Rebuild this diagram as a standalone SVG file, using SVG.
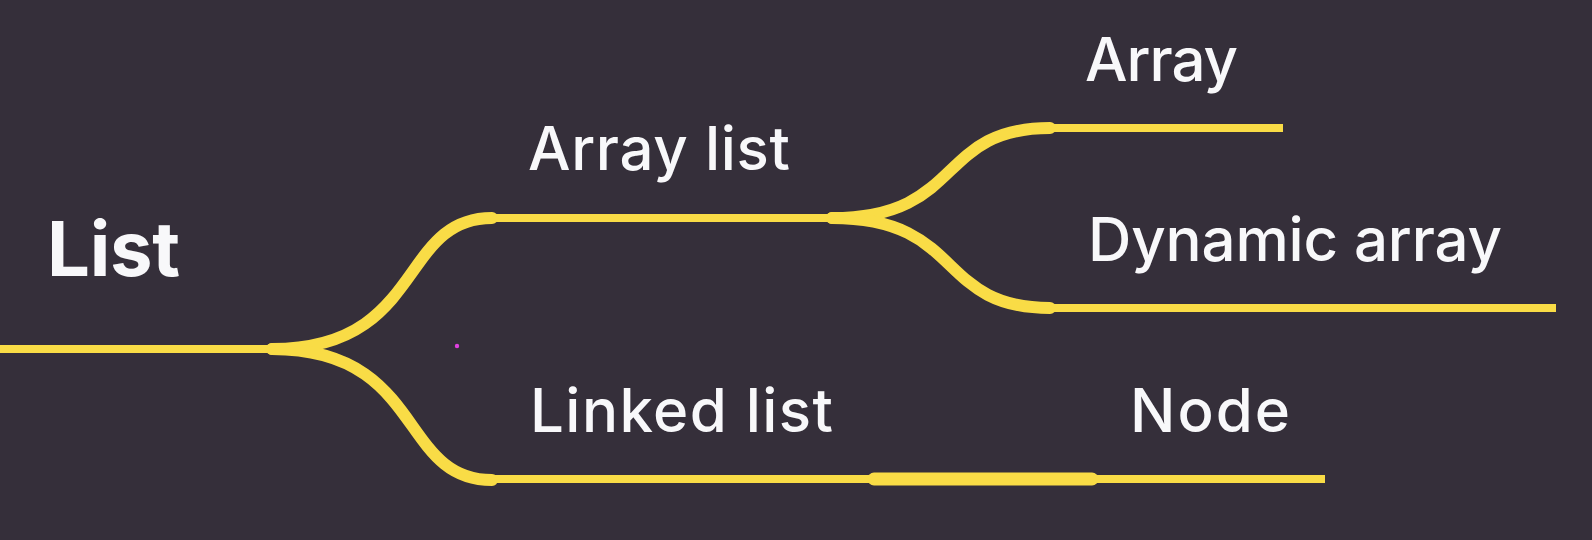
<svg xmlns="http://www.w3.org/2000/svg" width="1592" height="540" viewBox="0 0 1592 540">
  <style>
    .bg { fill: #352f3a; }
    .line { stroke: #f9dc46; stroke-width: 8; fill: none; stroke-linecap: butt; }
    .link { stroke: #f9dc46; stroke-width: 12; fill: none; stroke-linecap: round; }
    .label { font-family: "Inter", "Lato", "Liberation Sans", sans-serif; fill: #f8f8fa; font-weight: 500; font-size: 60px; }
    .root { font-weight: 700; font-size: 76px; }
  </style>
  <rect class="bg" x="0" y="0" width="1592" height="540"/>

  <!-- connectors between nodes -->
  <g id="connectors">
    <path class="link" d="M272,349 C425,349 398,218 492,218"/>
    <path class="link" d="M272,349 C425,349 398,480 492,480"/>
    <path class="link" d="M832,218 C965,218 935,128 1050,128"/>
    <path class="link" d="M832,218 C965,218 935,308 1050,308"/>
    <path class="link" style="stroke-width:13" d="M874,479 L1092,479"/>
  </g>

  <g id="node-list">
    <line class="line" x1="0" y1="349" x2="272" y2="349"/>
    <text class="label root" x="47" y="276" textLength="133" lengthAdjust="spacing">List</text>
  </g>
  <g id="node-array-list">
    <line class="line" x1="492" y1="218" x2="832" y2="218"/>
    <text class="label" x="528" y="170" textLength="262" lengthAdjust="spacing">Array list</text>
  </g>
  <g id="node-linked-list">
    <line class="line" x1="492" y1="479" x2="874" y2="479"/>
    <text class="label" x="530" y="432" textLength="303" lengthAdjust="spacing">Linked list</text>
  </g>
  <g id="node-array">
    <line class="line" x1="1050" y1="128" x2="1283" y2="128"/>
    <text class="label" x="1085" y="81" textLength="153" lengthAdjust="spacing">Array</text>
  </g>
  <g id="node-dynamic-array">
    <line class="line" x1="1050" y1="308" x2="1556" y2="308"/>
    <text class="label" x="1088" y="261" textLength="414" lengthAdjust="spacing">Dynamic array</text>
  </g>
  <g id="node-node">
    <line class="line" x1="1092" y1="479" x2="1325" y2="479"/>
    <text class="label" x="1130" y="432" textLength="160" lengthAdjust="spacing">Node</text>
  </g>

  <circle cx="457" cy="346" r="2.2" fill="#e040e0"/>
</svg>
